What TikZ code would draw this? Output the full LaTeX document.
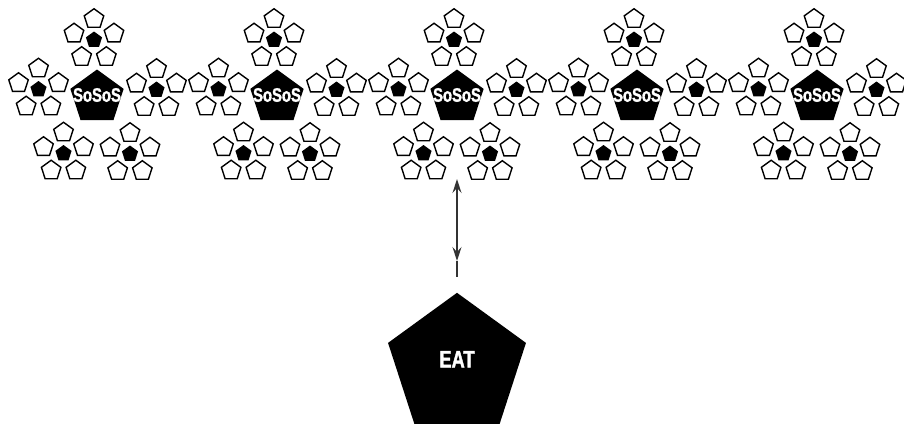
\documentclass[tikz,border=0pt]{standalone}
\usepackage{fontspec}
\newfontfamily\condbold{Liberation Sans Bold}[FakeStretch=0.76,FakeBold=1.5]
\usetikzlibrary{shapes.geometric,arrows.meta}
\tikzset{
  pent/.style={regular polygon, regular polygon sides=5, inner sep=0pt, outer sep=0pt},
  whitepent/.style={pent, draw=black, fill=white, line width=1.4pt, minimum size=20.5pt},
  smallblack/.style={pent, fill=black, minimum size=17pt},
  bigblack/.style={pent, fill=black, minimum size=56pt},
  eatpent/.style={pent, fill=black, minimum size=145pt},
  lbl/.style={text=white, inner sep=0pt},
  link/.style={draw=black!80, line width=1.4pt},
  >={Stealth[length=14pt,width=9pt,inset=5pt]}
}
\begin{document}
\begin{tikzpicture}[x=1pt,y=-1pt]
\useasboundingbox (0,0) rectangle (904,426);
\foreach \cx [count=\ci] in {97,277,457,637,817}{
  \node[bigblack] (big\ci) at (\cx,97.5) {};
  \node[lbl, font=\condbold\fontsize{19.5}{19.5}\selectfont] (lab\ci) at (\cx,95) {SoSoS};
  \foreach \dx/\dy [count=\si] in {-3/-57.5, -58.5/-8, 59.5/-7.5, -33.5/56, 33/56.5}{
    \pgfmathsetmacro{\sx}{\cx+\dx}
    \pgfmathsetmacro{\sy}{97.5+\dy}
    \node[smallblack] (c\ci s\si) at (\sx,\sy) {};
    \foreach \k in {0,...,4}{
      \pgfmathsetmacro{\ang}{90+72*\k}
      \node[whitepent] (c\ci s\si w\k) at ({\sx+21*cos(\ang)},{\sy-21*sin(\ang)}) {};
    }
  }
}
\node[eatpent] (eat) at (457,365.3) {};
\node[lbl, font=\condbold\fontsize{24}{24}\selectfont] (eatlab) at (457,359.3) {EAT};
\coordinate (atop) at (457,179);
\coordinate (amid) at (457,261);
\coordinate (abot) at (457,277);
\draw[link, <->] (atop) -- (amid);
\draw[link] (amid) -- (abot);
\end{tikzpicture}
\end{document}
